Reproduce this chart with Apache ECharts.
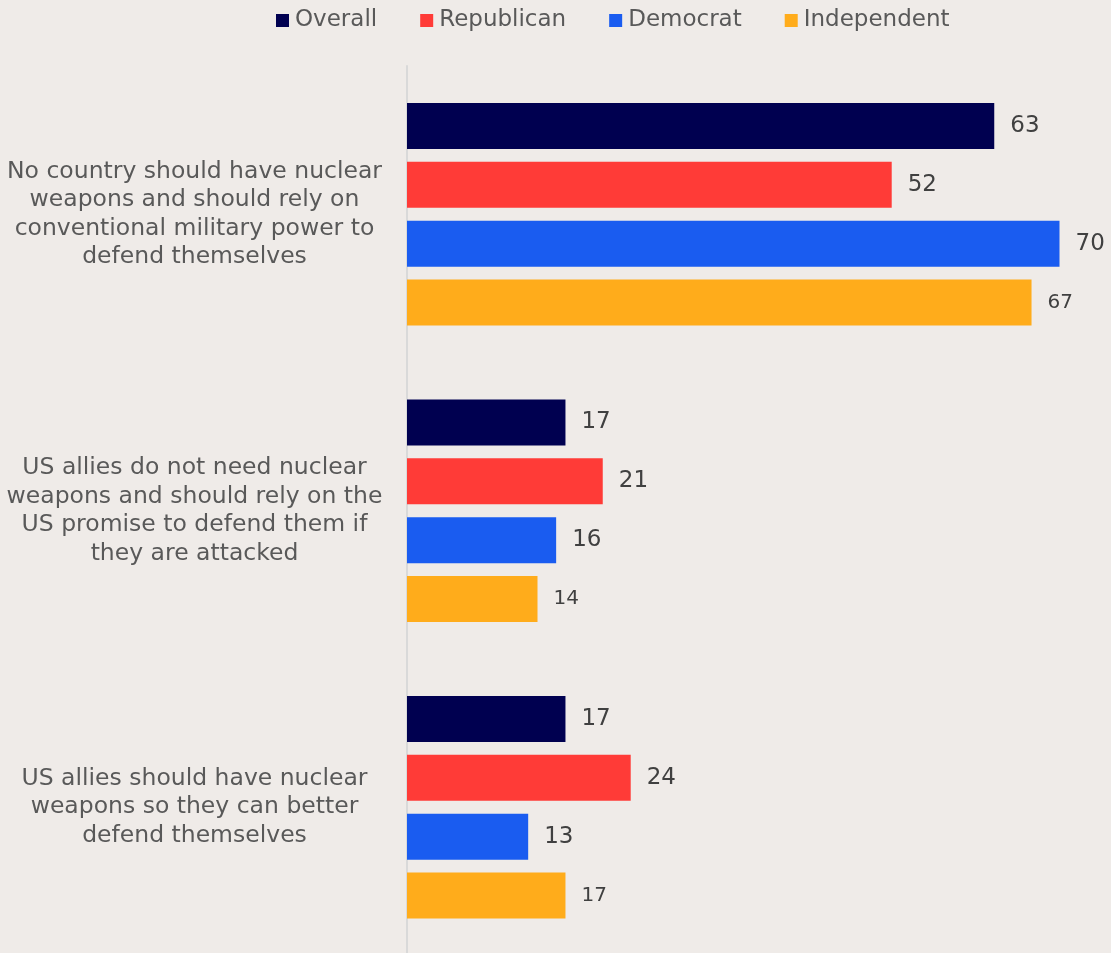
<!DOCTYPE html>
<html>
<head>
<meta charset="utf-8">
<script src="https://cdn.jsdelivr.net/npm/echarts@6/dist/echarts.min.js"></script>
<style>
html,body{margin:0;padding:0;background:#EFEBE8;}
#chart{width:1111px;height:953px;}
</style>
</head>
<body>
<div id="chart"></div>
<script>
const categories = [
  "No country should have nuclear\nweapons and should rely on\nconventional military power to\ndefend themselves",
  "US allies do not need nuclear\nweapons and should rely on the\nUS promise to defend them if\nthey are attacked",
  "US allies should have nuclear\nweapons so they can better\ndefend themselves"
];
const seriesNames = ["Overall", "Republican", "Democrat", "Independent"];
const overall = [63, 17, 17];
const republican = [52, 21, 24];
const democrat = [70, 16, 13];
const independent = [67, 14, 17];
const colors = ["#000050", "#FF3B37", "#1A5CF0", "#FFAC1B"];

const FONT = "DejaVu Sans";
const values = [overall, republican, democrat, independent];
const chart = echarts.init(document.getElementById('chart'), null, {renderer: 'canvas'});
chart.setOption({
  backgroundColor: '#EFEBE8',
  animation: false,
  textStyle: {fontFamily: FONT},
  legend: {
    top: 4,
    left: 271,
    icon: 'rect',
    itemWidth: 13,
    itemHeight: 13,
    itemGap: 43,
    textStyle: {fontSize: 23, color: '#595959', fontFamily: FONT, padding: [0, 0, 0, 1]},
    data: seriesNames
  },
  grid: {left: 407, top: 66, width: 652.5, height: 889.5, containLabel: false, outerBoundsMode: 'none'},
  xAxis: {
    type: 'value', min: 0, max: 70, show: false
  },
  yAxis: {
    type: 'category',
    inverse: true,
    data: categories,
    axisLine: {show: true, lineStyle: {color: '#D9D9D9', width: 2}},
    axisTick: {show: false},
    splitLine: {show: false},
    axisLabel: {
      align: 'center',
      margin: 212.5,
      fontSize: 23.5,
      lineHeight: 28.5,
      color: '#595959',
      fontFamily: FONT
    }
  },
  series: seriesNames.map((name, i) => ({
    name: name,
    type: 'bar',
    data: values[i],
    barWidth: 46,
    barGap: '28%',
    itemStyle: {color: colors[i]},
    label: {
      show: true,
      position: 'right',
      distance: 16,
      fontSize: i === 3 ? 20 : 23,
      color: '#404040',
      fontFamily: FONT
    }
  }))
});
</script>
</body>
</html>
